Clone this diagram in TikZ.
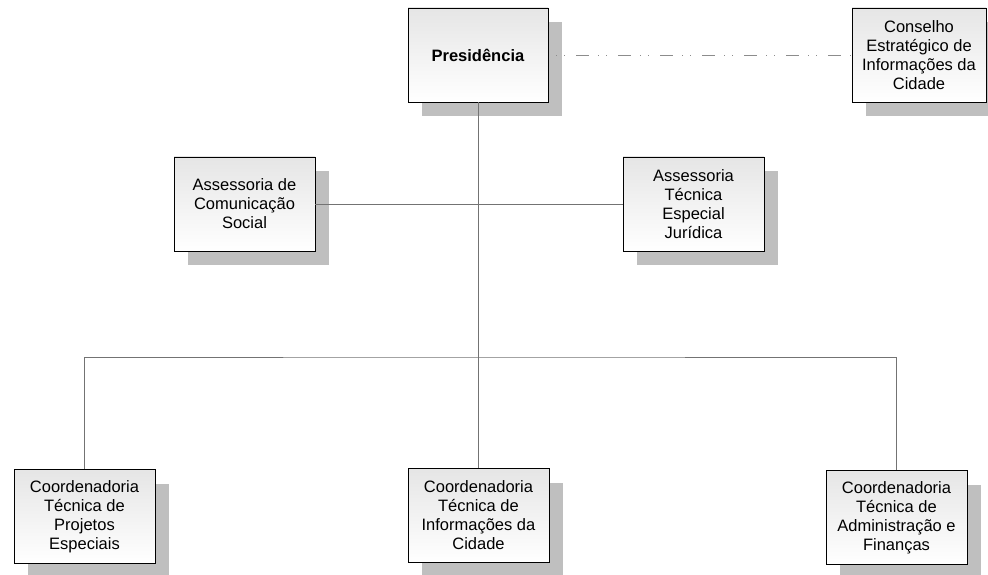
\documentclass[tikz,border=0pt]{standalone}
\usepackage{fontspec}
\setmainfont{Liberation Sans}
\usetikzlibrary{shadows}
\begin{document}
\begin{tikzpicture}[x=1pt,y=-1pt,
  orgbox/.style={draw=black, line width=0.9pt, top color=black!10, bottom color=white,
    minimum width=141pt, minimum height=94pt, align=center, inner sep=2pt,
    font=\fontsize{16.5}{19}\selectfont,
    drop shadow={shadow xshift=14pt, shadow yshift=-14pt, fill=black!25, opacity=1}},
  conn/.style={draw=black!55, line width=0.8pt},
  dashconn/.style={draw=black!45, line width=0.8pt,
    dash pattern=on 13pt off 9pt on 1pt off 7pt on 1pt off 11pt, dash phase=14pt}]
\clip (0,0) rectangle (988,575);
\useasboundingbox (0,0) rectangle (988,575);
\fill[white] (0,0) rectangle (988,575);

\node[orgbox, minimum width=140pt] (pres) at (478,55) {\textbf{Presidência}};
\node[orgbox, minimum width=134pt] (cons) at (919,55) {Conselho\\Estratégico de\\Informações da\\Cidade};
\node[orgbox] (acs) at (244.5,204) {Assessoria de\\Comunicação\\Social};
\node[orgbox] (atej) at (693.5,204) {Assessoria\\Técnica\\Especial\\Jurídica};
\node[orgbox] (ctpe) at (84.5,516.5) {Coordenadoria\\Técnica de\\Projetos\\Especiais};
\node[orgbox] (ctic) at (478.5,515.5) {Coordenadoria\\Técnica de\\Informações da\\Cidade};
\node[orgbox] (ctaf) at (896.5,517.5) {Coordenadoria\\Técnica de\\Administração e\\Finanças};

\coordinate (bus) at (478,357);
\path[dashconn] (pres.east) -- (cons.west);
\path[conn] (pres.south) -- (pres.south |- ctic.north);
\path[conn] (acs.east) -- (atej.west);
\path[conn] (ctpe.north) |- (bus) -| (ctaf.north);
\end{tikzpicture}
\end{document}
